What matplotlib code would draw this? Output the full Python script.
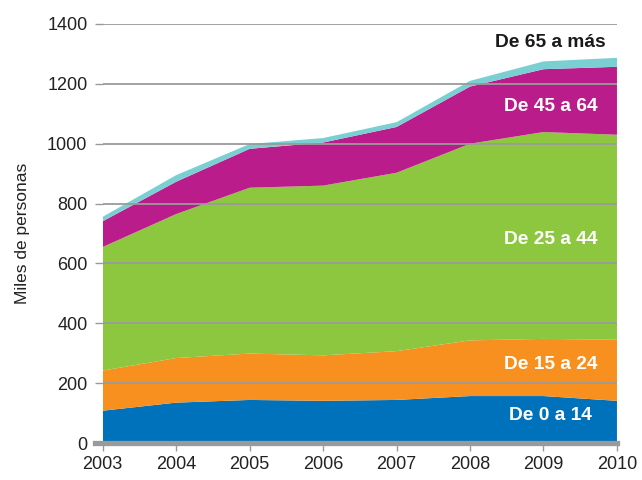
import matplotlib
matplotlib.use("Agg")
import matplotlib.pyplot as plt
import numpy as np

# ------------------------------------------------------------------
# Data (miles de personas)
# ------------------------------------------------------------------
years = [2003, 2004, 2005, 2006, 2007, 2008, 2009, 2010]
age_0_14 = [108, 135, 144, 141, 144, 157, 157, 141]
age_15_24 = [134, 149, 155, 152, 163, 186, 191, 204]
age_25_44 = [413, 481, 554, 567, 596, 657, 691, 685]
age_45_64 = [86, 108, 130, 144, 153, 191, 210, 227]
age_65_up = [15, 22, 16, 15, 16, 19, 26, 30]

labels = ["De 0 a 14", "De 15 a 24", "De 25 a 44", "De 45 a 64", "De 65 a más"]
colors = ["#0071BB", "#F7901E", "#8DC63F", "#BB1C8C", "#7ACFD2"]
y_ticks = [0, 200, 400, 600, 800, 1000, 1200, 1400]

GRAY = "#9A9A9A"
FONT = ["Liberation Sans", "DejaVu Sans"]

fig = plt.figure(figsize=(6.42, 4.80), dpi=100)
ax = fig.add_axes([0.160, 0.077, 0.801, 0.873])

ax.stackplot(years, age_0_14, age_15_24, age_25_44, age_45_64, age_65_up,
             colors=colors, linewidth=0, zorder=1)

ax.set_xlim(years[0], years[-1])
ax.set_ylim(0, 1400)

# gridlines sit on top of the areas
ax.set_yticks(y_ticks)
ax.yaxis.grid(True, color=GRAY, linewidth=1.3, zorder=3)
ax.set_axisbelow(False)
ax.axhline(0, color=GRAY, linewidth=3.8, zorder=4, clip_on=False,
           xmin=-0.015, xmax=1.0)

ax.set_xticks(years)
for s in ax.spines.values():
    s.set_visible(False)
ax.tick_params(axis="y", length=6, width=1.0, color=GRAY, pad=5)
ax.tick_params(axis="x", length=6, width=1.0, color=GRAY, pad=3, direction="out")
for lab in ax.get_xticklabels() + ax.get_yticklabels():
    lab.set_fontfamily(FONT)
    lab.set_fontsize(13)
    lab.set_color("#222222")

ax.set_ylabel("Miles de personas", fontsize=12.5, family=FONT,
              color="#222222", labelpad=12)

# in-area labels
label_pos = [(2009.66, 91), (2009.73, 263), (2009.73, 681), (2009.73, 1125), (2009.84, 1338)]
text_colors = ["white", "white", "white", "white", "#1a1a1a"]
for (x, y), txt, c in zip(label_pos, labels, text_colors):
    ax.text(x, y, txt, ha="right", va="center", fontsize=13.8,
            fontweight="bold", color=c, family=FONT, zorder=5)

plt.savefig("out.png", dpi=100)
plt.close(fig)
